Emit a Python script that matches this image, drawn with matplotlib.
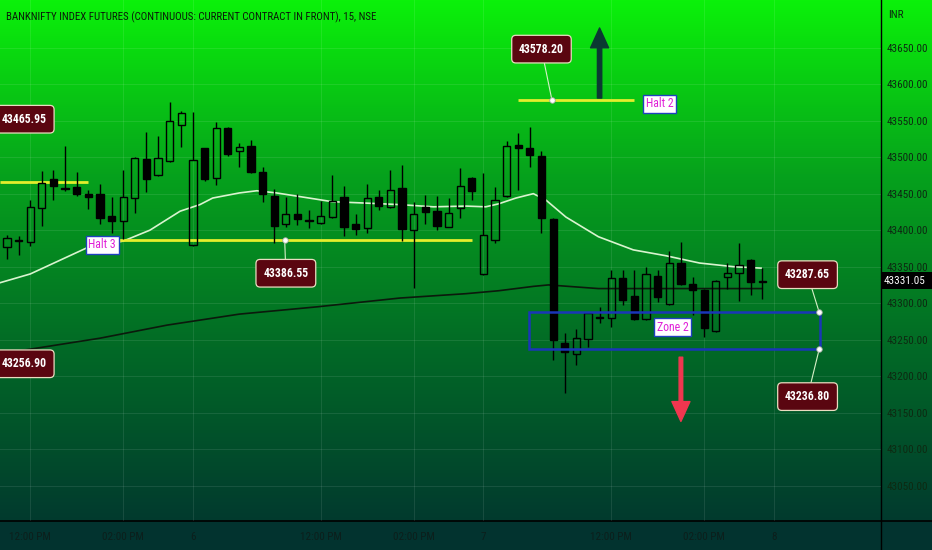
import numpy as np
import matplotlib.pyplot as plt
from matplotlib.patches import Rectangle
from matplotlib.colors import LinearSegmentedColormap
from matplotlib import font_manager

# 15 min candles, index 0 = 11:30 AM of the first day on screen
opens = [43377, 43386, 43384, 43430, 43470, 43458, 43459, 43449, 43450, 43419,
         43412, 43444, 43497, 43475, 43495, 43544, 43379, 43512, 43472, 43540,
         43509, 43515, 43479, 43447, 43409, 43422, 43413.5, 43410, 43418, 43445,
         43408, 43403, 43445, 43432, 43458, 43400, 43432, 43426, 43405, 43430,
         43471, 43340, 43386, 43447, 43517, 43512, 43501, 43415, 43245, 43231,
         43251, 43281, 43279, 43334, 43310, 43278, 43337, 43299, 43355, 43326,
         43318, 43262, 43336, 43342, 43359, 43328.6]
highs = [43393, 43392, 43441, 43481, 43483, 43515, 43479, 43455, 43463, 43445,
         43482, 43500, 43534, 43529, 43575, 43563, 43562, 43513, 43548, 43541,
         43520, 43524, 43487, 43456, 43446, 43450, 43427, 43440, 43476, 43460,
         43422, 43463, 43455, 43482, 43489, 43439, 43448, 43447, 43444, 43485,
         43473, 43478, 43459, 43522, 43533, 43542, 43509, 43416, 43259, 43264,
         43287, 43295, 43346, 43346, 43346, 43350, 43345, 43372, 43384, 43336,
         43319, 43332, 43355, 43382, 43360, 43348]
lows = [43360, 43366, 43378, 43406, 43442, 43453, 43447, 43429, 43409, 43396,
        43388, 43424, 43452, 43474, 43493, 43514, 43378, 43468, 43462, 43501,
        43487, 43478, 43438, 43383, 43405, 43407, 43403, 43409, 43417, 43392,
        43393, 43396, 43428, 43431, 43385, 43321, 43409, 43400, 43404, 43416,
        43441, 43339, 43382, 43446, 43455, 43487, 43396, 43222, 43177, 43215,
        43240, 43273, 43267, 43298, 43277, 43277, 43301, 43298, 43325, 43284,
        43253, 43261, 43320, 43303, 43311, 43306]
closes = [43389, 43385, 43432, 43464, 43461, 43457, 43449, 43446, 43417, 43412,
          43445, 43499, 43470, 43499, 43549, 43561, 43496, 43470, 43540, 43504,
          43514, 43479, 43449, 43406, 43422, 43415, 43413, 43420, 43440, 43404,
          43402, 43444, 43433, 43455, 43401, 43422, 43425, 43406, 43424, 43461,
          43453, 43394, 43442, 43515, 43512, 43503, 43417, 43249, 43233, 43252,
          43286, 43280, 43335, 43304, 43278, 43340, 43308, 43355, 43326, 43318,
          43266, 43330, 43341, 43352, 43329, 43331.05]

# moving averages (read at a few candle positions)
fast_x = [-0.6, 2, 6.9, 10, 12.3, 14.9, 16.6, 17.7, 20, 21.5, 23.2, 25.2, 28, 31,
          33.8, 36.7, 39.5, 41.2, 42.3, 43.8, 45.3, 46.4, 48.1, 50.9, 53.9, 56.7,
          59.6, 62.5, 64.9]
fast_ma = [43328, 43340, 43376, 43385, 43400, 43426, 43435, 43444, 43451, 43454,
           43451, 43446, 43439, 43437, 43435, 43432, 43433, 43432, 43436, 43444,
           43450, 43441, 43418, 43391, 43373, 43365, 43355, 43350, 43348]
slow_x = [-0.6, 2, 8, 13.8, 20, 26.7, 33.8, 39.5, 42.3, 45.3, 46.6, 50.9, 56.7, 65]
slow_ma = [43231, 43237, 43252, 43270, 43285, 43295, 43307, 43313, 43317, 43323,
           43325, 43320, 43320, 43320]

# horizontal levels
level_vals = [43465.95, 43386.55, 43578.20]
level_start = [-0.6, 9.5, 44.0]
level_end = [7.0, 40.0, 54.0]

zone_lo = 43236.80
zone_hi = 43287.65
zone_start = 44.9
zone_end = 70.0
last_price = 43331.05

tick_idx = [2, 10, 16, 27, 35, 41, 52, 60, 66]
tick_txt = ['12:00 PM', '02:00 PM', '6', '12:00 PM', '02:00 PM', '7',
            '12:00 PM', '02:00 PM', '8']
price_ticks = [43050, 43100, 43150, 43200, 43250, 43300, 43350, 43400, 43450,
               43500, 43550, 43600, 43650]

# pick the narrowest family that is actually installed
names = set(f.name for f in font_manager.fontManager.ttflist)
COND = [n for n in ['Liberation Sans Narrow', 'Roboto Condensed', 'DejaVu Sans Condensed',
                    'Roboto', 'DejaVu Sans'] if n in names]
if not COND:
    COND = ['DejaVu Sans']
COND = COND[:1] + ['DejaVu Sans']

W, H = 932, 550
fig = plt.figure(figsize=(W / 100, H / 100), dpi=100)

# background gradient
bg = fig.add_axes([0, 0, 1, 1])
bg.set_xlim(0, 1)
bg.set_ylim(0, 1)
bg.axis('off')
cmap = LinearSegmentedColormap.from_list('bg', ['#0bf10a', '#06a21c', '#026a26', '#013a2e'])
grad = np.linspace(0, 1, 256).reshape(-1, 1)
bg.imshow(grad, cmap=cmap, extent=[0, 1, 29 / H, 1], aspect='auto', zorder=0)
bg.add_patch(Rectangle((0, 0), 1, 29 / H, fc='#02332f', ec='none', zorder=1))
bg.axhline(29 / H, color='black', lw=1.2, zorder=2)
bg.axvline(881 / W, color='black', lw=1.0, zorder=2)

ax = fig.add_axes([0, 29 / H, 881 / W, 521 / H])
ax.set_facecolor('none')
ax.set_xlim(-0.602, 75.22)
ax.set_ylim(43001.6, 43715.3)
for s in ax.spines.values():
    s.set_visible(False)

ax.set_yticks(price_ticks)
ax.set_yticklabels(['%.2f' % p for p in price_ticks])
ax.yaxis.tick_right()
ax.set_xticks(tick_idx)
ax.set_xticklabels(tick_txt)
ax.tick_params(length=0)
ax.tick_params(axis='y', pad=4, labelsize=8, labelcolor='#0d2a12')
ax.tick_params(axis='x', pad=8, labelsize=8, labelcolor='#0c1f1c')
for t in ax.get_xticklabels() + ax.get_yticklabels():
    t.set_family(COND)
ax.grid(True, color='white', alpha=0.09, lw=0.8)

# candles
bw = 0.62
for i in range(len(opens)):
    o, h, l, c = opens[i], highs[i], lows[i], closes[i]
    top, bot = max(o, c), min(o, c)
    ax.vlines(i, top, h, color='black', lw=1, zorder=4)
    ax.vlines(i, l, bot, color='black', lw=1, zorder=4)
    hgt = max(top - bot, 0.8)
    if c >= o:
        ax.bar(i, hgt, bottom=bot, width=bw, facecolor='none', edgecolor='black', lw=1, zorder=4)
    else:
        ax.bar(i, hgt, bottom=bot, width=bw, facecolor='black', edgecolor='black', lw=1, zorder=4)

ax.plot(fast_x, fast_ma, color='#d9f4cf', lw=1.2, zorder=3)
ax.plot(slow_x, slow_ma, color='#0b1a0c', lw=1.2, zorder=3)

for v, a, b in zip(level_vals, level_start, level_end):
    ax.hlines(v, a, b, color='#e4ee2c', lw=2, zorder=3)

ax.add_patch(Rectangle((zone_start, zone_lo), zone_end - zone_start, zone_hi - zone_lo,
                       fill=False, ec='#1a36b8', lw=1.8, zorder=5))


def tag(txt, xy, xytext, link=True, ha='center'):
    props = dict(arrowstyle='-', color='#d7f0c8', lw=0.8, shrinkA=0, shrinkB=0) if link else None
    ax.annotate(txt, xy=xy, xytext=xytext, ha=ha, va='center', color='white',
                fontsize=8.5, fontweight='bold', family=COND, zorder=7, annotation_clip=False,
                bbox=dict(boxstyle='round,pad=0.62,rounding_size=0.35', fc='#5a0610',
                          ec='#eadcc0', lw=0.9),
                arrowprops=props)
    if link:
        ax.plot(xy[0], xy[1], 'o', ms=4, mfc='white', mec='#9aa89a', mew=0.6, zorder=8)


tag('43465.95', (0, 43552), (-0.45, 43552), link=False, ha='left')
tag('43256.90', (0, 43217), (-0.45, 43217), link=False, ha='left')
tag('43386.55', (23.9, level_vals[1]), (24.0, 43341))
tag('43578.20', (46.9, level_vals[2]), (46.0, 43648))
tag('43287.65', (69.9, zone_hi), (68.9, 43339))
tag('43236.80', (69.9, zone_lo), (68.9, 43172))


def note(txt, x, y):
    ax.text(x, y, txt, ha='center', va='center', color='#e020d8', fontsize=8.5,
            family=COND, zorder=7,
            bbox=dict(boxstyle='square,pad=0.22', fc='white', ec='#2040c0', lw=1))


note('Halt 3', 8.2, 43380)
note('Halt 2', 56.15, 43573)
note('Zone 2', 57.3, 43267)

ax.annotate('', xy=(51.0, 43677), xytext=(51.0, 43581), zorder=6,
            arrowprops=dict(arrowstyle='simple,head_length=1.1,head_width=1.0,tail_width=0.24',
                            mutation_scale=13, fc='#0b3a32', ec='#0b3a32', shrinkA=0, shrinkB=0))
ax.annotate('', xy=(58.0, 43138), xytext=(58.0, 43226), zorder=6,
            arrowprops=dict(arrowstyle='simple,head_length=1.1,head_width=1.0,tail_width=0.2',
                            mutation_scale=13, fc='#f0364f', ec='#f0364f', shrinkA=0, shrinkB=0))

# last price marker on the scale
ytr = ax.get_yaxis_transform()
ax.add_patch(Rectangle((1.0, last_price - 12.3), 51 / 881, 24.6, transform=ytr,
                       fc='black', ec='none', clip_on=False, zorder=9))
ax.text(1.0 + 3 / 881, last_price, '%.2f' % last_price, transform=ytr, ha='left', va='center',
        color='white', fontsize=8, family=COND, zorder=10, clip_on=False)

fig.text(6 / W, 1 - 17 / H, 'BANKNIFTY INDEX FUTURES (CONTINUOUS: CURRENT CONTRACT IN FRONT), 15, NSE',
         ha='left', va='center', fontsize=7.8, color='#0a1a0a', family=COND)
fig.text(888 / W, 1 - 15 / H, 'INR', ha='left', va='center', fontsize=8, color='#0d2a12',
         family=COND)

fig.savefig('out.png', dpi=100)
